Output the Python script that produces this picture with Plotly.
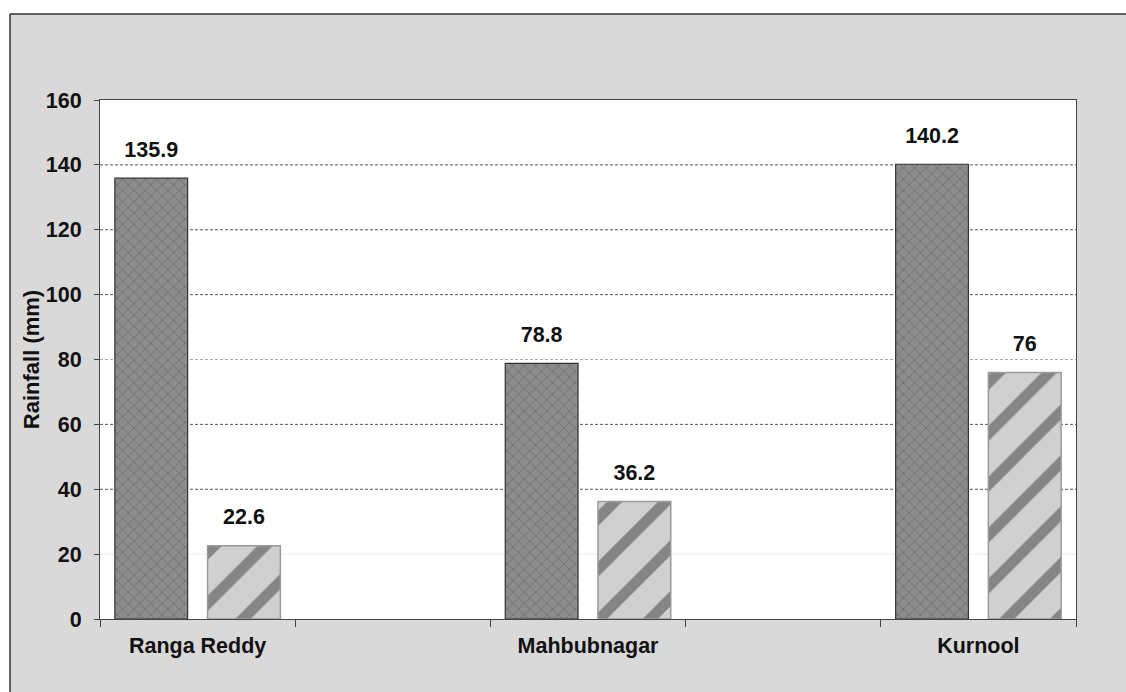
import plotly.graph_objects as go

# ---- data ----
categories = ["Ranga Reddy", "Mahbubnagar", "Kurnool"]
axis_slots = ["Ranga Reddy", " ", "Mahbubnagar", "  ", "Kurnool"]
series_a = [135.9, 78.8, 140.2]
series_b = [22.6, 36.2, 76]
label_a = ["135.9", "78.8", "140.2"]
label_b = ["22.6", "36.2", "76"]
y_ticks = [0, 20, 40, 60, 80, 100, 120, 140, 160]
dark_grid = [40, 60, 100, 120, 140]
mid_grid = [80]
faint_grid = [20]

FONT = "Liberation Sans, Arial, sans-serif"
FS = 21.5
BARGAP = 0.05

fig = go.Figure()
fig.add_trace(go.Bar(
    x=categories, y=series_a, name="A",
    marker=dict(color="#8a8a8a", line=dict(color="#333333", width=1.2),
                pattern=dict(shape="x", fgcolor="#4a4a4a", bgcolor="#8c8c8c",
                             size=8, solidity=0.18)),
))
fig.add_trace(go.Bar(
    x=categories, y=series_b, name="B",
    marker=dict(color="#cfcfcf", line=dict(color="#9a9a9a", width=1.5),
                pattern=dict(shape="/", fgcolor="#3a3a3a", bgcolor="#d0d0d0",
                             size=36, solidity=0.3)),
))
# value labels
for vals, labs in ((series_a, label_a), (series_b, label_b)):
    fig.add_trace(go.Scatter(
        x=categories, y=vals, text=labs, mode="markers+text",
        marker=dict(size=24, opacity=0),
        textposition="top center",
        textfont=dict(family=FONT, size=FS, color="#111111", weight="bold"),
        hoverinfo="skip",
    ))

shapes = [
    dict(type="rect", xref="paper", yref="paper", x0=-0.11, x1=1.06,
         y0=1.1657, y1=1.25, fillcolor="white", line=dict(width=0)),
    dict(type="rect", xref="paper", yref="paper", x0=-0.11, x1=-0.0922,
         y0=-0.3, y1=1.1657, fillcolor="white", line=dict(width=0)),
    dict(type="line", xref="paper", yref="paper", x0=-0.0922, x1=1.06,
         y0=1.1657, y1=1.1657, line=dict(color="#333", width=1.5)),
    dict(type="line", xref="paper", yref="paper", x0=-0.0922, x1=-0.0922,
         y0=-0.3, y1=1.1657, line=dict(color="#333", width=1.5)),
]
for levels, col, dash in ((dark_grid, "#555555", "3px,2px"),
                          (mid_grid, "#aaaaaa", "3px,2px"),
                          (faint_grid, "#ececec", "solid")):
    for v in levels:
        shapes.append(dict(type="line", xref="paper", yref="y", x0=0, x1=1,
                           y0=v, y1=v, layer="below",
                           line=dict(color=col, width=1, dash=dash)))

fig.update_layout(
    width=1126, height=692,
    margin=dict(l=100, r=50, t=100, b=73),
    paper_bgcolor="#d9d9d9",
    plot_bgcolor="white",
    showlegend=False,
    barmode="group", bargap=BARGAP, bargroupgap=0.215,
    scattermode="group", scattergap=BARGAP,
    font=dict(family=FONT, size=FS, color="#111111", weight="bold"),
    xaxis=dict(
        type="category", categoryorder="array", categoryarray=axis_slots,
        range=[-0.5, len(axis_slots) - 0.5],
        tickson="boundaries", ticks="outside", ticklen=7, tickcolor="#444",
        showline=True, linecolor="#444", linewidth=1.2, mirror=True,
        showgrid=False, ticklabelstandoff=7,
        tickfont=dict(family=FONT, size=FS, weight="bold"),
    ),
    yaxis=dict(
        range=[0, 160], tickvals=y_ticks,
        ticks="outside", ticklen=5, tickcolor="#444",
        showline=True, linecolor="#444", linewidth=1.2, mirror=True,
        showgrid=False, zeroline=False, ticklabelstandoff=8,
        tickfont=dict(family=FONT, size=FS, weight="bold"),
        title=dict(text="Rainfall (mm)", standoff=0,
                   font=dict(family=FONT, size=22, weight="bold")),
    ),
    shapes=shapes,
)

fig.write_html("out.html")
